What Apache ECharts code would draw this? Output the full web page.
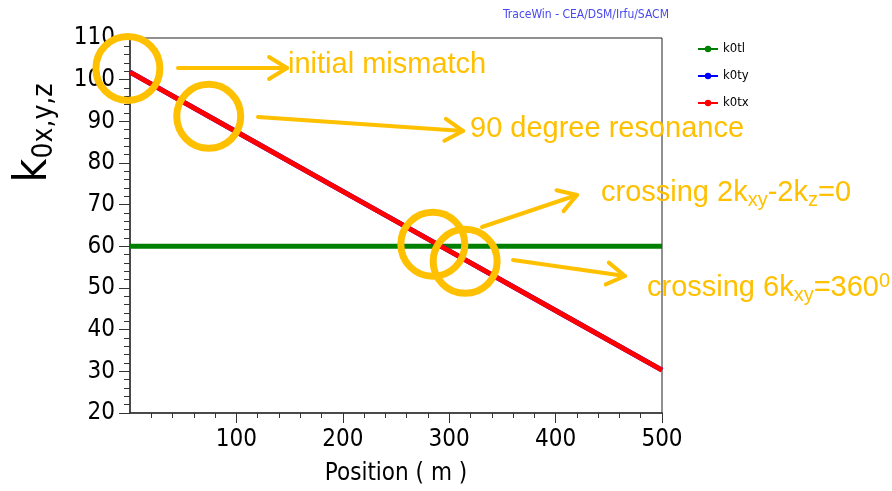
<!DOCTYPE html>
<html>
<head>
<meta charset="utf-8">
<script src="https://cdn.jsdelivr.net/npm/echarts@6/dist/echarts.min.js"></script>
<style>
  html, body { margin: 0; padding: 0; background: #fff; }
  #chart { width: 892px; height: 491px; }
</style>
</head>
<body>
<div id="chart"></div>
<script>
// Position along the machine (m)
const positions = [0, 100, 200, 300, 400, 500];
// Phase advances per period
const k0tl = [60, 60, 60, 60, 60, 60];
const k0ty = [101.8, 87.5, 73.2, 58.9, 44.6, 30.3];
const k0tx = [101.8, 87.5, 73.2, 58.9, 44.6, 30.3];
const seriesNames = ['k0tl', 'k0ty', 'k0tx'];
const seriesColors = ['#008000', '#0000ff', '#ff0000'];
// Labelled positions on the x axis
const xTickValues = [100, 200, 300, 400, 500];
// Points of interest along the curves, highlighted with rings
const ringPoints = [[-2, 102.7], [74, 91.2], [284.6, 60.5], [315, 56.4]];

const tickFont = '"DejaVu Sans Condensed", "DejaVu Sans", sans-serif';
const noteFont = '"Liberation Sans", Arial, sans-serif';
const gold = '#FFC000';

const chart = echarts.init(document.getElementById('chart'));

function pairs(ys) { return positions.map((x, i) => [x, ys[i]]); }

chart.setOption({
  animation: false,
  backgroundColor: '#fff',
  title: {
    text: 'TraceWin - CEA/DSM/Irfu/SACM',
    left: 498, top: 4,
    textStyle: { fontSize: 12, fontWeight: 'normal', color: '#4848f0', fontFamily: tickFont }
  },
  legend: {
    orient: 'vertical',
    left: 692, top: 37,
    itemWidth: 20, itemHeight: 8, itemGap: 13,
    data: seriesNames,
    lineStyle: { width: 2 },
    textStyle: { fontSize: 13, color: '#000', fontFamily: tickFont, lineHeight: 14 }
  },
  grid: {
    left: 130, right: 230, top: 38, bottom: 78,
    show: true, borderColor: '#222', borderWidth: 1
  },
  xAxis: {
    type: 'value', min: 0, max: 500, interval: 100,
    name: 'Position ( m )', nameLocation: 'middle', nameGap: 49,
    nameTextStyle: { fontSize: 24, color: '#000', fontFamily: tickFont },
    axisLine: { lineStyle: { color: '#333', width: 1.5 } },
    axisTick: { length: 10, customValues: xTickValues, lineStyle: { color: '#333' } },
    minorTick: { show: true, splitNumber: 5, length: 5, lineStyle: { color: '#333' } },
    splitLine: { show: false },
    axisLabel: { showMinLabel: false, fontSize: 24, color: '#000', margin: 15, fontFamily: tickFont }
  },
  yAxis: {
    type: 'value', min: 20, max: 110, interval: 10,
    axisLine: { show: true, lineStyle: { color: '#333', width: 1.5 } },
    axisTick: { show: true, length: 11, lineStyle: { color: '#333' } },
    minorTick: { show: true, splitNumber: 5, length: 6, lineStyle: { color: '#333' } },
    splitLine: { show: false },
    axisLabel: { fontSize: 24, color: '#000', margin: 15, fontFamily: tickFont }
  },
  series: [k0tl, k0ty, k0tx].map((ys, i) => ({
    name: seriesNames[i],
    type: 'line',
    data: pairs(ys),
    symbol: 'circle',
    showSymbol: false,
    color: seriesColors[i],
    lineStyle: { width: 5, color: seriesColors[i] }
  }))
});

// Open arrow: shaft plus a chevron head at the tip
function arrow(x1, y1, x2, y2) {
  const a = Math.atan2(y2 - y1, x2 - x1);
  const len = 21, spread = 0.55;
  const p1 = [x2 - len * Math.cos(a - spread), y2 - len * Math.sin(a - spread)];
  const p2 = [x2 - len * Math.cos(a + spread), y2 - len * Math.sin(a + spread)];
  const st = { stroke: gold, lineWidth: 4, lineCap: 'round', lineJoin: 'round', fill: null };
  return [
    { type: 'line', z: 100, shape: { x1, y1, x2, y2 }, style: st },
    { type: 'polyline', z: 100, shape: { points: [p1, [x2, y2], p2] }, style: st }
  ];
}

const noteRich = {
  m: { fontSize: 29, lineHeight: 34, fill: gold, fontFamily: noteFont },
  sub: { fontSize: 20, lineHeight: 20, verticalAlign: 'bottom', fill: gold, fontFamily: noteFont },
  sup: { fontSize: 20, lineHeight: 20, verticalAlign: 'top', fill: gold, fontFamily: noteFont }
};
function note(x, y, text) {
  return {
    type: 'text', z: 100, x, y,
    style: { text, rich: noteRich, fill: gold, align: 'left', verticalAlign: 'middle' }
  };
}

const rings = ringPoints.map(p => {
  const c = chart.convertToPixel({ gridIndex: 0 }, p);
  return {
    type: 'circle', z: 100,
    shape: { cx: c[0], cy: c[1], r: 32 },
    style: { stroke: gold, lineWidth: 7, fill: null }
  };
});

chart.setOption({
  graphic: [
    ...rings,
    ...arrow(178, 68, 287, 68),
    ...arrow(258, 117, 463, 131),
    ...arrow(482, 227, 577, 195),
    ...arrow(513, 260, 625, 276),
    note(288, 65, '{m|initial mismatch}'),
    note(470, 129, '{m|90 degree resonance}'),
    note(601, 193, '{m|crossing 2k}{sub|xy}{m|-2k}{sub|z}{m|=0}'),
    note(647, 288, '{m|crossing 6k}{sub|xy}{m|=360}{sup|0}'),
    {
      type: 'text', z: 100, x: 34, y: 133, rotation: Math.PI / 2,
      style: {
        text: '{k|k}{s|0x,y,z}',
        align: 'center', verticalAlign: 'middle', fill: '#000',
        rich: {
          k: { fontSize: 46, lineHeight: 50, fill: '#000', fontFamily: tickFont },
          s: { fontSize: 28, lineHeight: 36, verticalAlign: 'bottom', fill: '#000', fontFamily: tickFont }
        }
      }
    }
  ]
});
</script>
</body>
</html>
